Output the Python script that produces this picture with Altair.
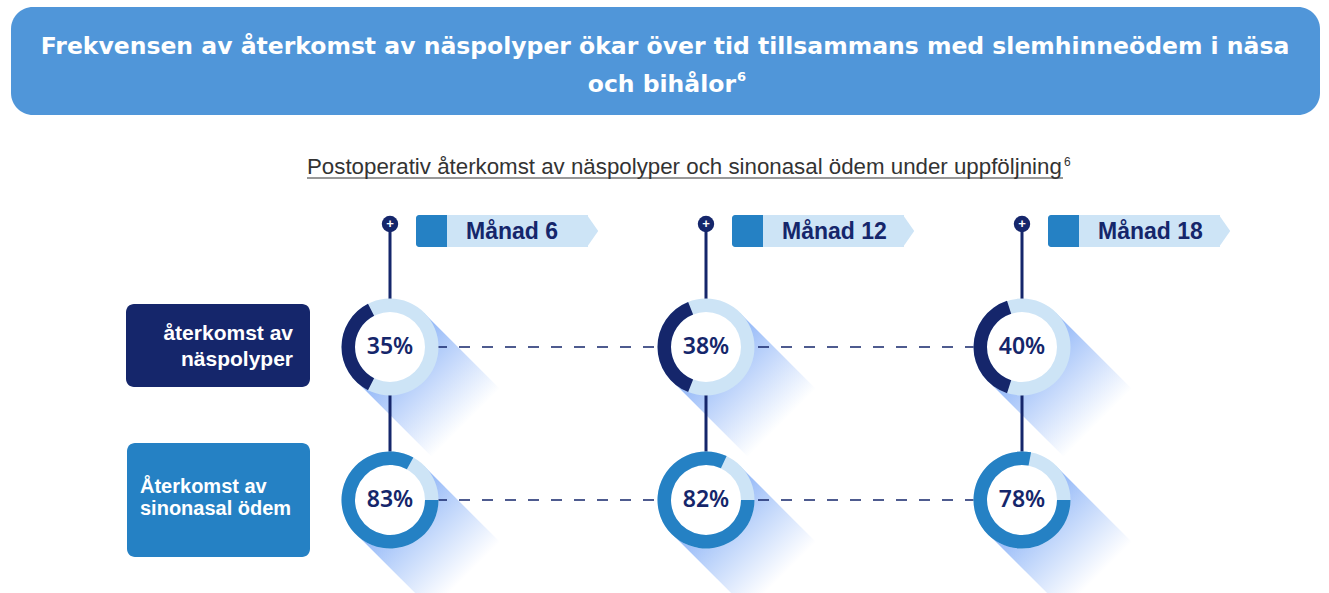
import altair as alt
import pandas as pd

# --- data -------------------------------------------------------------
months = [6, 12, 18]
month_labels = ["Månad 6", "Månad 12", "Månad 18"]
rows = ["återkomst av näspolyper", "Återkomst av sinonasal ödem"]
row_text = ["återkomst av\nnäspolyper", "Återkomst av\nsinonasal ödem"]
polyp_recurrence = [35, 38, 40]      # % at month 6, 12, 18
edema_recurrence = [83, 82, 78]      # % at month 6, 12, 18

title_line1 = "Frekvensen av återkomst av näspolyper ökar över tid tillsammans med slemhinneödem i näsa"
title_line2 = "och bihålor"
subtitle = "Postoperativ återkomst av näspolyper och sinonasal ödem under uppföljning"
ref_mark = "6"

# --- colours ----------------------------------------------------------
NAVY = "#15266b"
BLUE = "#2581c4"
LIGHT = "#cde4f6"
BANNER = "#5096d9"

# --- tables built from the lists above -------------------------------
records = []
for r, vals in zip(rows, [polyp_recurrence, edema_recurrence]):
    for m, v in zip(months, vals):
        if r == rows[0]:
            start, end = 75 - v / 2, 75 + v / 2   # arc centred on the left side
        else:
            start, end = 25, 25 + v               # arc starting at three o'clock
        records.append({"month": m, "row": r, "value": v, "start": start, "end": end})
df = pd.DataFrame(records)

month_df = pd.DataFrame({"month": months, "label": month_labels, "last_row": rows[-1]})
row_df = pd.DataFrame({"row": rows, "text": row_text,
                       "first": months[0], "last": months[-1]})
one = pd.DataFrame({"k": [0]})

XS = alt.Scale(type="point", domain=months, range=[390, 1022], padding=0)
YS = alt.Scale(type="point", domain=rows, range=[347, 500], padding=0)
X = alt.X("month:O", scale=XS, axis=None)
Y = alt.Y("row:N", scale=YS, axis=None)

# banner with the headline
TITLE_FONT = "DejaVu Sans"
banner = alt.Chart(one).mark_rect(color=BANNER, cornerRadius=22).encode(
    x=alt.value(11), x2=alt.value(1320), y=alt.value(7), y2=alt.value(115))
title1 = alt.Chart(pd.DataFrame({"t": [title_line1]})).mark_text(
    font=TITLE_FONT, fontWeight="bold", fontSize=23.5, color="white", align="center", baseline="middle"
).encode(x=alt.value(665), y=alt.value(47), text="t:N")
title2 = alt.Chart(pd.DataFrame({"t": [title_line2]})).mark_text(
    font=TITLE_FONT, fontWeight="bold", fontSize=23.5, color="white", align="right", baseline="middle"
).encode(x=alt.value(736), y=alt.value(85), text="t:N")
title_sup = alt.Chart(pd.DataFrame({"t": [ref_mark]})).mark_text(
    font=TITLE_FONT, fontWeight="bold", fontSize=13, color="white", align="left", baseline="middle"
).encode(x=alt.value(737), y=alt.value(77), text="t:N")

# underlined subtitle
sub = alt.Chart(pd.DataFrame({"t": [subtitle]})).mark_text(
    font="Liberation Sans", fontSize=22.3, color="#333333", align="left", baseline="alphabetic"
).encode(x=alt.value(307), y=alt.value(174), text="t:N")
sub_sup = alt.Chart(pd.DataFrame({"t": [ref_mark]})).mark_text(
    font="Liberation Sans", fontSize=12, color="#333333", align="left", baseline="alphabetic"
).encode(x=alt.value(1064), y=alt.value(166), text="t:N")
sub_line = alt.Chart(one).mark_rule(color="#333333", strokeWidth=1.2).encode(
    x=alt.value(307), x2=alt.value(1063), y=alt.value(178))

# diagonal soft shadows behind each ring
shadow_grad = alt.LinearGradient(
    gradient="linear",
    stops=[alt.GradientStop(color="#8ab2f7", offset=0),
           alt.GradientStop(color="#ffffff", offset=1)],
    x1=0, y1=0, x2=1, y2=1)
shadow = alt.Chart(df).mark_rule(
    stroke=shadow_grad, strokeWidth=96, strokeCap="butt", x2Offset=76, y2Offset=76
).encode(x=X, x2="month", y=Y, y2="row")

# timeline stems and pins
stem = alt.Chart(month_df).mark_rule(color=NAVY, strokeWidth=3).encode(
    x=X, y=alt.Y("last_row:N", scale=YS, axis=None), y2=alt.value(224))
pin = alt.Chart(month_df).mark_point(
    shape="circle", filled=True, size=270, color=NAVY, opacity=1).encode(x=X, y=alt.value(224))
pin_plus = alt.Chart(month_df).mark_text(
    text="+", font="Liberation Sans", fontWeight="bold", fontSize=13, color="white",
    baseline="middle").encode(x=X, y=alt.value(224))

# month tags
tag_square = alt.Chart(month_df).mark_rect(
    color=BLUE, xOffset=26, x2Offset=57, cornerRadiusTopLeft=3, cornerRadiusBottomLeft=3
).encode(x=X, x2="month", y=alt.value(215), y2=alt.value(247))
tag_body = alt.Chart(month_df).mark_rect(
    color=LIGHT, xOffset=57, x2Offset=198).encode(x=X, x2="month", y=alt.value(215), y2=alt.value(247))
tag_tip = alt.Chart(month_df).mark_point(
    shape="M-1,-1L0,-1L0.7,0L0,1L-1,1Z", filled=True, size=1024, color=LIGHT, opacity=1,
    strokeWidth=0, xOffset=197).encode(x=X, y=alt.value(231))
tag_text = alt.Chart(month_df).mark_text(
    font="Liberation Sans", fontWeight="bold", fontSize=23, color=NAVY, align="left",
    baseline="middle", xOffset=76).encode(x=X, y=alt.value(232), text="label:N")

# row label boxes
box1 = alt.Chart(row_df).transform_filter(alt.datum.row == rows[0]).mark_rect(
    color=NAVY, cornerRadius=8, yOffset=-43, y2Offset=40).encode(
    x=alt.value(126), x2=alt.value(310), y=Y, y2="row")
box2 = alt.Chart(row_df).transform_filter(alt.datum.row == rows[1]).mark_rect(
    color=BLUE, cornerRadius=8, yOffset=-57, y2Offset=57).encode(
    x=alt.value(127), x2=alt.value(310), y=Y, y2="row")
box1_text = alt.Chart(row_df).transform_filter(alt.datum.row == rows[0]).mark_text(
    font="Liberation Sans", fontWeight="bold", fontSize=21, color="white", align="right",
    baseline="middle", lineBreak="\n", lineHeight=26, dy=-13).encode(
    x=alt.value(293), y=Y, text="text:N")
box2_text = alt.Chart(row_df).transform_filter(alt.datum.row == rows[1]).mark_text(
    font="Liberation Sans", fontWeight="bold", fontSize=20, color="white", align="left",
    baseline="middle", lineBreak="\n", lineHeight=22, dy=-13).encode(
    x=alt.value(140), y=Y, text="text:N")

# dashed connectors across each row
dash = alt.Chart(row_df).mark_rule(color=NAVY, strokeWidth=1.6, strokeDash=[11, 12]).encode(
    x=alt.X("first:O", scale=XS, axis=None), x2="last", y=Y)

# rings
disc = alt.Chart(df).mark_point(shape="circle", filled=True, size=72 * 72, color="white",
                                opacity=1).encode(x=X, y=Y)
ring_bg = alt.Chart(df).mark_arc(color=LIGHT, radius=48.5, radius2=35, theta=0, theta2=6.2832).encode(
    x=X, y=Y)
ring_val = alt.Chart(df).mark_arc(radius=48.5, radius2=35).encode(
    x=X, y=Y,
    theta=alt.Theta("start:Q", stack=None, scale=alt.Scale(domain=[0, 100], range=[0, 6.283185])),
    theta2="end:Q",
    color=alt.Color("row:N", scale=alt.Scale(domain=rows, range=[NAVY, BLUE]), legend=None))
pct = alt.Chart(df).transform_calculate(lbl="datum.value + '%'").mark_text(
    font="Noto Sans", fontWeight=600, fontSize=23, color=NAVY, baseline="middle"
).encode(x=X, y=Y, text="lbl:N")

chart = alt.layer(
    banner, title1, title2, title_sup, sub, sub_sup, sub_line,
    shadow, stem, dash, pin, pin_plus,
    tag_square, tag_body, tag_tip, tag_text,
    box1, box2, box1_text, box2_text,
    disc, ring_bg, ring_val, pct
).properties(
    width=1329, height=593, padding=0, autosize=alt.AutoSizeParams(type="none"),
    background="white"
).configure_view(stroke=None)

chart.save("out.html", embed_options={"renderer": "svg", "actions": False})
